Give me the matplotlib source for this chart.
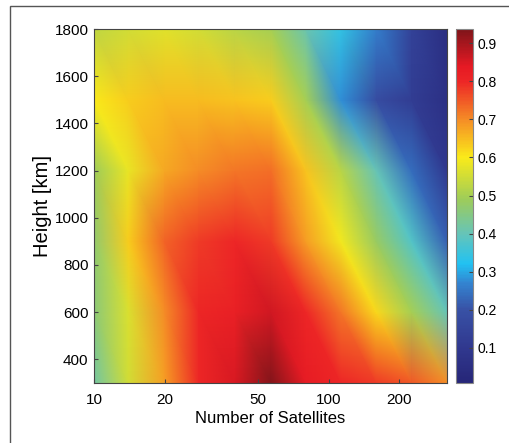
import numpy as np
import matplotlib
matplotlib.use("Agg")
import matplotlib.pyplot as plt
import matplotlib.tri as mtri
from matplotlib.colors import LinearSegmentedColormap
from matplotlib.patches import Rectangle

plt.rcParams['font.family'] = ['Liberation Sans', 'DejaVu Sans']

# grid
sats = [10, 14, 20, 28, 40, 57, 80, 113, 160, 226, 320]
heights = [300, 600, 900, 1200, 1500, 1800]
# one row per height (300 km first)
row300 = [0.42, 0.55, 0.68, 0.80, 0.85, 0.93, 0.83, 0.80, 0.78, 0.75, 0.70]
row600 = [0.46, 0.56, 0.70, 0.80, 0.82, 0.86, 0.80, 0.72, 0.62, 0.50, 0.40]
row900 = [0.47, 0.63, 0.74, 0.78, 0.80, 0.78, 0.68, 0.59, 0.48, 0.38, 0.22]
row1200 = [0.49, 0.58, 0.67, 0.70, 0.72, 0.73, 0.64, 0.52, 0.40, 0.24, 0.10]
row1500 = [0.60, 0.63, 0.65, 0.65, 0.64, 0.63, 0.50, 0.28, 0.18, 0.12, 0.06]
row1800 = [0.53, 0.55, 0.57, 0.55, 0.52, 0.50, 0.41, 0.34, 0.26, 0.14, 0.05]
vmin, vmax = 0.008, 0.937
cbar_ticks = [0.1, 0.2, 0.3, 0.4, 0.5, 0.6, 0.7, 0.8, 0.9]
x_ticks = [10, 20, 50, 100, 200]
y_ticks = [400, 600, 800, 1000, 1200, 1400, 1600, 1800]

Z = np.array([row300, row600, row900, row1200, row1500, row1800])
# gouraud triangles don't survive the log transform, so work in log10(x)
X, Y = np.meshgrid(np.log10(sats), heights)
nx, ny = len(sats), len(heights)

# two triangles per cell, like matlab's interp shading
tris = []
for j in range(ny - 1):
    for i in range(nx - 1):
        bl = j * nx + i
        br, tl = bl + 1, bl + nx
        tr = tl + 1
        tris.append([bl, br, tl])
        tris.append([br, tr, tl])
tri = mtri.Triangulation(X.ravel(), Y.ravel(), tris)

# colormap sampled from the colour bar
anchors = [
    (0.008, (0.15, 0.15, 0.47)),
    (0.10, (0.19, 0.22, 0.56)),
    (0.20, (0.22, 0.32, 0.65)),
    (0.27, (0.20, 0.52, 0.82)),
    (0.32, (0.13, 0.76, 0.95)),
    (0.40, (0.40, 0.77, 0.72)),
    (0.49, (0.62, 0.80, 0.35)),
    (0.60, (0.98, 0.92, 0.10)),
    (0.70, (0.96, 0.55, 0.15)),
    (0.80, (0.93, 0.15, 0.15)),
    (0.84, (0.90, 0.10, 0.14)),
    (0.937, (0.50, 0.08, 0.10)),
]
cmap = LinearSegmentedColormap.from_list(
    'sat', [((v - vmin) / (vmax - vmin), c) for v, c in anchors])

fig = plt.figure(figsize=(5.09, 4.43), dpi=100)
fig.patches.append(Rectangle((10 / 509, -0.1), 1.1, 1 - 6 / 443 + 0.1,
                             transform=fig.transFigure, fill=False,
                             edgecolor='#555555', lw=1.0))

ax = fig.add_axes([94 / 509, 60 / 443, 353 / 509, 354 / 443])
mesh = ax.tripcolor(tri, Z.ravel(), shading='gouraud', cmap=cmap,
                    vmin=vmin, vmax=vmax)
ax.set_xlim(np.log10(sats[0]), np.log10(sats[-1]))
ax.set_ylim(300, 1800)
ax.set_xticks(np.log10(x_ticks))
ax.set_xticklabels([str(t) for t in x_ticks])
ax.set_yticks(y_ticks)
ax.tick_params(direction='in', length=3, labelsize=11, color='#444444')
ax.tick_params(axis='x', pad=7)
ax.tick_params(axis='y', pad=4)
ax.set_xlabel('Number of Satellites', fontsize=12, labelpad=3)
ax.set_ylabel('Height [km]', fontsize=14.5, labelpad=2)
for s in ax.spines.values():
    s.set_color('#444444')

cax = fig.add_axes([456 / 509, 60 / 443, 17 / 509, 354 / 443])
cb = fig.colorbar(mesh, cax=cax, ticks=cbar_ticks)
cb.ax.tick_params(direction='in', length=3, labelsize=10, color='#444444')
cb.outline.set_edgecolor('#888888')
cb.ax.set_yticklabels([f'{t:.1f}' for t in cbar_ticks])

fig.savefig('out.png', dpi=100)
